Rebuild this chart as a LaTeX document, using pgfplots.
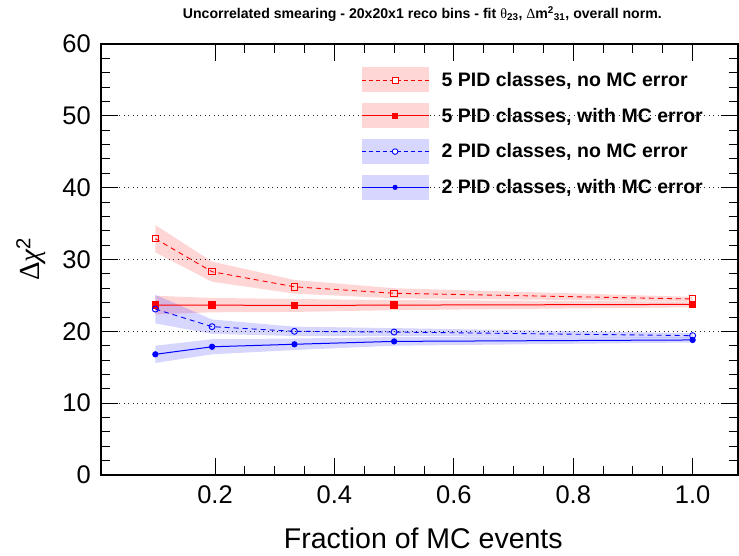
\documentclass[border=0pt]{standalone}
\usepackage{pgfplots}
\pgfplotsset{compat=1.18}
\usepackage{fontspec}
\setmainfont{Liberation Sans}
\newfontfamily\symfont{Liberation Serif}
\definecolor{bandred}{RGB}{255,0,0}
\definecolor{bandblue}{RGB}{0,0,255}
\begin{document}
\begin{tikzpicture}
\useasboundingbox (0,0) rectangle (739bp,556bp);
\begin{axis}[
  at={(101bp,81bp)}, anchor=south west,
  scale only axis, width=637bp, height=431bp,
  xmin=0.009, xmax=1.076, ymin=0, ymax=60,
  xtick={0.2,0.4,0.6,0.8,1.0},
  xticklabels={0.2,0.4,0.6,0.8,1.0},
  minor x tick num=3,
  ytick={0,10,20,30,40,50,60},
  minor y tick num=4,
  major tick length=17bp, minor tick length=9bp,
  tick style={black, line width=0.9bp},
  axis line style={line width=1.8bp},
  ymajorgrids, grid style={black!85, dash pattern=on 1.3bp off 3.2bp, line width=0.9bp},
  xticklabel style={anchor=base, yshift=-28.3bp, inner sep=0pt, font=\fontsize{25.5bp}{30bp}\selectfont},
  yticklabel style={anchor=east, inner sep=0pt, xshift=-10bp, font=\fontsize{25.5bp}{30bp}\selectfont},
  /pgf/number format/assume math mode=true,
  xlabel={Fraction of MC events},
  xlabel style={at={(axis description cs:0.506,-0.1694)}, anchor=base, inner sep=0pt, font=\fontsize{28.5bp}{32bp}\selectfont},
  ylabel={{\symfont Δ\itshape χ}\textsuperscript{2}},
  ylabel style={at={(axis description cs:-0.110,0.501)}, anchor=center, inner sep=0pt, font=\fontsize{29bp}{32bp}\selectfont},
  title={Uncorrelated smearing - 20x20x1 reco bins - fit {\mdseries\symfont θ}\textsubscript{23}, {\mdseries\symfont Δ}m\textsuperscript{2}\textsubscript{31}, overall norm.},
  title style={at={(axis description cs:0.5045,1.0557)}, anchor=center, inner sep=0pt, font=\fontsize{14.1bp}{16bp}\selectfont\bfseries},
  legend style={at={(axis description cs:0.408,0.946)}, anchor=north west, draw=none, fill=none, inner sep=0pt, row sep=10.8bp, font=\fontsize{19.5bp}{22bp}\selectfont\bfseries, nodes={inner sep=0pt}},
  legend cell align=left,
]
% bands
\addplot[draw=none, fill=bandred, fill opacity=0.16, forget plot] coordinates {
 (0.1,34.8) (0.195,29.7) (0.333,27.15) (0.5,26.0) (1.0,24.8)
 (1.0,24.2) (0.5,24.6) (0.333,25.25) (0.195,26.9) (0.1,31.0)} -- cycle;
\addplot[draw=none, fill=bandred, fill opacity=0.16, forget plot] coordinates {
 (0.1,24.95) (0.195,24.65) (0.333,24.5) (0.5,24.35) (1.0,24.15)
 (1.0,23.35) (0.5,22.95) (0.333,22.7) (0.195,22.65) (0.1,22.35)} -- cycle;
\addplot[draw=none, fill=bandblue, fill opacity=0.16, forget plot] coordinates {
 (0.1,25.1) (0.195,21.65) (0.333,20.65) (0.5,20.45) (1.0,19.75)
 (1.0,19.05) (0.5,19.35) (0.333,19.35) (0.195,19.65) (0.1,21.1)} -- cycle;
\addplot[draw=none, fill=bandblue, fill opacity=0.16, forget plot] coordinates {
 (0.1,18.0) (0.195,18.9) (0.333,19.0) (0.5,19.2) (1.0,19.15)
 (1.0,18.45) (0.5,18.0) (0.333,17.4) (0.195,16.8) (0.1,15.6)} -- cycle;
% lines
\addplot[red, line width=0.9bp, dash pattern=on 5bp off 4bp, mark=square, mark size=3.2bp, mark options={solid, line width=0.9bp}, forget plot] coordinates {
 (0.1,32.9) (0.195,28.3) (0.333,26.2) (0.5,25.3) (1.0,24.5)};
\addplot[red, line width=1bp, mark=square*, mark size=3.2bp, forget plot] coordinates {
 (0.1,23.65) (0.195,23.65) (0.333,23.6) (0.5,23.65) (1.0,23.75)};
\addplot[blue, line width=0.9bp, dash pattern=on 5bp off 4bp, mark=o, mark size=3bp, mark options={solid, line width=0.9bp}, forget plot] coordinates {
 (0.1,23.1) (0.195,20.65) (0.333,20.0) (0.5,19.9) (1.0,19.4)};
\addplot[blue, line width=1bp, mark=*, mark size=2.6bp, forget plot] coordinates {
 (0.1,16.8) (0.195,17.85) (0.333,18.2) (0.5,18.6) (1.0,18.8)};
% legend
\addlegendimage{legend image code/.code={
  \path[draw=none, fill=none] (0bp,-12.5bp) rectangle (80bp,12.5bp);
  \fill[bandred, opacity=0.16, draw=none] (0bp,-12.5bp) rectangle (67bp,12.5bp);
  \draw[red, line width=0.9bp, dash pattern=on 4bp off 3bp, fill=none] (0bp,0bp) -- (67bp,0bp);
  \draw[red, line width=0.9bp, fill=white, solid] (30.5bp,-3bp) rectangle (36.5bp,3bp);}}
\addlegendentry{5 PID classes, no MC error}
\addlegendimage{legend image code/.code={
  \path[draw=none, fill=none] (0bp,-12.5bp) rectangle (80bp,12.5bp);
  \fill[bandred, opacity=0.16, draw=none] (0bp,-12.5bp) rectangle (67bp,12.5bp);
  \draw[red, line width=1bp, fill=none] (0bp,0bp) -- (67bp,0bp);
  \fill[red, draw=none] (30.5bp,-3bp) rectangle (36.5bp,3bp);}}
\addlegendentry{5 PID classes, with MC error}
\addlegendimage{legend image code/.code={
  \path[draw=none, fill=none] (0bp,-12.5bp) rectangle (80bp,12.5bp);
  \fill[bandblue, opacity=0.16, draw=none] (0bp,-12.5bp) rectangle (67bp,12.5bp);
  \draw[blue, line width=0.9bp, dash pattern=on 4bp off 3bp, fill=none] (0bp,0bp) -- (67bp,0bp);
  \draw[blue, line width=0.9bp, fill=white, solid] (33.5bp,0bp) circle (2.8bp);}}
\addlegendentry{2 PID classes, no MC error}
\addlegendimage{legend image code/.code={
  \path[draw=none, fill=none] (0bp,-12.5bp) rectangle (80bp,12.5bp);
  \fill[bandblue, opacity=0.16, draw=none] (0bp,-12.5bp) rectangle (67bp,12.5bp);
  \draw[blue, line width=1bp, fill=none] (0bp,0bp) -- (67bp,0bp);
  \fill[blue, draw=none] (33.5bp,0bp) circle (2.6bp);}}
\addlegendentry{2 PID classes, with MC error}
\end{axis}
\end{tikzpicture}
\end{document}
